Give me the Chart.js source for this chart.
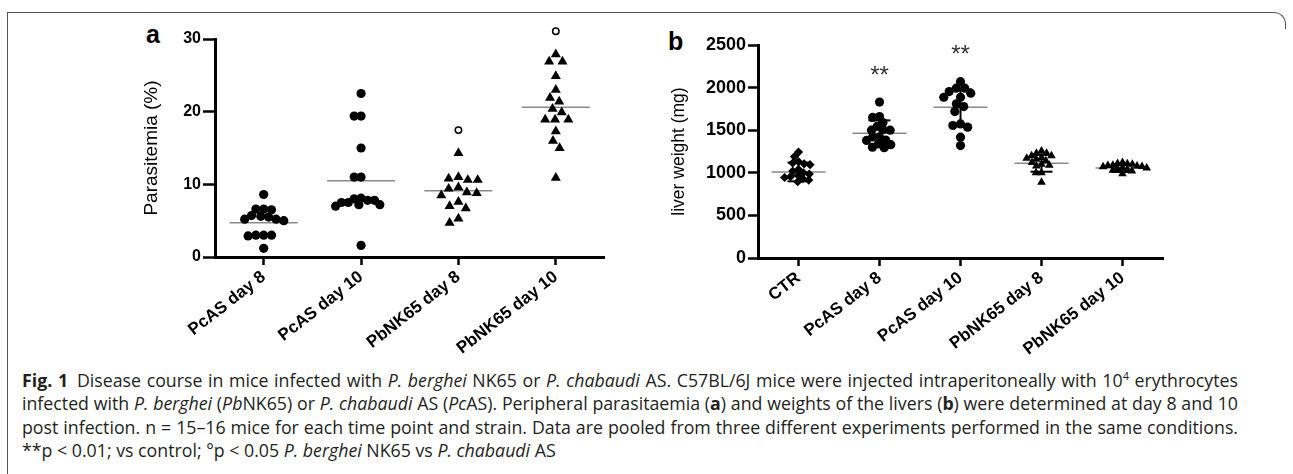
<!DOCTYPE html>
<html>
<head>
<meta charset="utf-8">
<script src="https://cdn.jsdelivr.net/npm/chart.js@4.4.1/dist/chart.umd.min.js"></script>
<style>
    body { margin: 0; width: 1293px; height: 474px; background: #fff; position: relative; overflow: hidden; }
    .frame { position: absolute; left: 7px; top: 12px; width: 1265px; height: 480px; border-top: 1.5px solid #555; border-left: 1.5px solid #555; }
    .corner { position: absolute; left: 1270px; top: 12px; width: 15px; height: 16px; border-top: 1.5px solid #555; border-right: 1.5px solid #555; border-top-right-radius: 12px; }
    .panel { position: absolute; top: 0; }
    .tag { position: absolute; font: bold 25px "Liberation Sans", Arial, sans-serif; line-height: 25px; color: #000; }
    .caption { position: absolute; left: 22px; top: 369px; width: 1216px; font: 16px "Open Sans", sans-serif; line-height: 23.3px; color: #231f20; }
    .caption div { white-space: nowrap; }
    .caption .j { text-align: justify; text-align-last: justify; white-space: normal; }
    .caption sup { font-size: 0.62em; line-height: 0; }
</style>
</head>
<body>
<div class="frame"></div>
<div class="corner"></div>
<div class="tag" style="left:146px; top:22px;">a</div>
<div class="tag" style="left:668px; top:29px;">b</div>
<canvas id="chart-a" class="panel" style="left:0px;" width="640" height="365"></canvas>
<canvas id="chart-b" class="panel" style="left:640px;" width="653" height="365"></canvas>
<div class="caption">
    <div class="j"><b>Fig. 1</b>&ensp;Disease course in mice infected with <i>P. berghei</i> NK65 or <i>P. chabaudi</i> AS. C57BL/6J mice were injected intraperitoneally with 10<sup>4</sup> erythrocytes</div>
    <div class="j">infected with <i>P. berghei</i> (<i>Pb</i>NK65) or <i>P. chabaudi</i> AS (<i>Pc</i>AS). Peripheral parasitaemia (<b>a</b>) and weights of the livers (<b>b</b>) were determined at day 8 and 10</div>
    <div class="j">post infection. n = 15–16 mice for each time point and strain. Data are pooled from three different experiments performed in the same conditions.</div>
    <div>**p &lt; 0.01; vs control; °p &lt; 0.05 <i>P. berghei</i> NK65 vs <i>P. chabaudi</i> AS</div>
</div>
<script>
// Panel a: parasitemia (%)
const groupsA = ["PcAS day 8", "PcAS day 10", "PbNK65 day 8", "PbNK65 day 10"];
const pcas8A = [8.6, 6.6, 6.6, 6.5, 5.7, 5.5, 5.2, 5.0, 5.2, 5.6, 3.0, 3.0, 2.9, 3.0, 1.2];
const pcas10A = [22.5, 19.4, 19.4, 15.0, 11.0, 11.0, 8.0, 7.8, 7.5, 7.2, 7.0, 7.2, 7.5, 7.8, 8.1, 1.6];
const pbnk8A = [14.3, 10.8, 10.6, 10.6, 11.0, 9.4, 9.6, 8.5, 8.8, 8.9, 7.0, 7.6, 6.7, 4.7, 5.3];
const pbnk10A = [27.9, 26.9, 26.9, 24.9, 23.0, 21.9, 21.4, 20.4, 19.9, 18.9, 18.9, 18.9, 17.3, 16.0, 15.0, 10.9];
const meanA = [4.7, 10.5, 9.1, 20.6];
const markA = ["", "", "°", "°"];
const ticksA = [0, 10, 20, 30];

// Panel b: liver weight (mg)
const groupsB = ["CTR", "PcAS day 8", "PcAS day 10", "PbNK65 day 8", "PbNK65 day 10"];
const ctrB = [1243, 1191, 1130, 1115, 1105, 1095, 1040, 1020, 1000, 985, 970, 955, 945, 930, 915, 895];
const pcas8B = [1830, 1650, 1660, 1590, 1545, 1500, 1500, 1505, 1420, 1380, 1330, 1295, 1300, 1340, 1385, 1420];
const pcas10B = [2070, 1993, 1993, 1934, 1887, 1887, 1953, 1809, 1777, 1719, 1555, 1536, 1574, 1418, 1320];
const pbnk8B = [1255, 1230, 1230, 1200, 1200, 1180, 1170, 1160, 1140, 1120, 1100, 1090, 1080, 1000, 1000, 890];
const pbnk10B = [1120, 1110, 1105, 1100, 1090, 1085, 1080, 1075, 1070, 1060, 1055, 1050, 1040, 1030, 1020, 990];
const meanB = [1010, 1465, 1770, 1113, 1055];
const sdB = [110, 150, 210, 100, 45];
const markB = ["", "**", "**", "", ""];
const ticksB = [0, 500, 1000, 1500, 2000, 2500];

const FONT = "'Liberation Sans', Arial, sans-serif";

// size the caption so the first line fills the box with normal word spacing
const caption = document.querySelector(".caption");
const probe = document.createElement("span");
probe.innerHTML = caption.querySelector(".j").innerHTML;
probe.style.cssText = "position:absolute; visibility:hidden; white-space:nowrap;";
caption.appendChild(probe);
caption.style.fontSize = (16 * 1195 / probe.getBoundingClientRect().width).toFixed(2) + "px";
probe.remove();

// one scatter dataset per group, x is nudged later by the swarm layout
function dots(values, group, style, radius, gap) {
    return {
        type: "scatter",
        data: values.map(v => ({ x: group, y: v })),
        group: group,
        swarm: radius * gap,
        pointStyle: style,
        pointRadius: radius,
        pointHoverRadius: radius,
        backgroundColor: "#000",
        borderColor: "#000",
        borderWidth: 0,
    };
}

function meanLines(means, half, color) {
    return {
        type: "scatter",
        data: means.map((m, i) => ({ x: i, y: m })),
        pointStyle: "line",
        pointRadius: half,
        pointHoverRadius: half,
        borderColor: color,
        borderWidth: 1.5,
    };
}

function sdBar(mean, sd, group) {
    return {
        type: "line",
        data: [{ x: group, y: mean - sd }, { x: group, y: mean + sd }],
        pointStyle: "line",
        pointRadius: 11,
        pointHoverRadius: 11,
        borderColor: "#000",
        borderWidth: 2,
        fill: false,
    };
}

// significance marks drawn above the highest point of a group
function marksPlugin(labels, groups) {
    return {
        id: "marks",
        afterDatasetsDraw(chart) {
            const { ctx, scales: { x, y } } = chart;
            labels.forEach((m, i) => {
                if (!m) return;
                const top = y.getPixelForValue(Math.max(...groups[i]));
                const px = x.getPixelForValue(i);
                ctx.save();
                if (m === "°") {
                    ctx.beginPath();
                    ctx.arc(px, top - 23, 3.2, 0, Math.PI * 2);
                    ctx.lineWidth = 1.5;
                    ctx.strokeStyle = "#000";
                    ctx.stroke();
                } else {
                    ctx.font = "24px " + FONT;
                    ctx.textAlign = "center";
                    ctx.textBaseline = "alphabetic";
                    ctx.fillStyle = "#333";
                    ctx.fillText(m, px, top - 32 + 12.5);
                }
                ctx.restore();
            });
        },
    };
}

function axes(labels, tickValues, max, title, titleSize, yWidth, titlePad, xHeight, tickFont, yTickLen) {
    return {
        x: {
            type: "linear",
            min: -0.5,
            max: labels.length - 0.5,
            afterBuildTicks: s => { s.ticks = labels.map((g, i) => ({ value: i })); },
            afterFit: s => { s.height = xHeight; },
            ticks: {
                callback: v => labels[v],
                minRotation: 38,
                maxRotation: 38,
                autoSkip: false,
                padding: 2,
                color: "#000",
                font: { family: FONT, size: 17, weight: "bold" },
            },
            grid: { drawOnChartArea: false, drawTicks: true, tickLength: 8, tickWidth: 2.5, tickColor: "#000" },
            border: { color: "#000", width: 3 },
        },
        y: {
            type: "linear",
            min: 0,
            max: max,
            afterBuildTicks: s => { s.ticks = tickValues.map(v => ({ value: v })); },
            afterFit: s => { s.width = yWidth; },
            title: {
                display: true,
                text: title,
                color: "#000",
                font: { family: FONT, size: titleSize },
                padding: { top: titlePad, bottom: 0 },
            },
            ticks: {
                callback: v => String(v),
                padding: 2,
                color: "#000",
                font: { family: FONT, size: tickFont, weight: "bold" },
            },
            grid: { drawOnChartArea: false, drawTicks: true, tickLength: yTickLen, tickWidth: 2.5, tickColor: "#000" },
            border: { color: "#000", width: 3 },
        },
    };
}

// simple beeswarm: place each point as close to the group centre as possible without overlap
function swarm(chart) {
    const xs = chart.scales.x;
    const ys = chart.scales.y;
    const unit = xs.getPixelForValue(1) - xs.getPixelForValue(0);
    chart.data.datasets.forEach(ds => {
        if (!ds.swarm) return;
        const d = ds.swarm;
        const placed = [];
        const order = ds.data.map((p, i) => i).sort((a, b) => ds.data[b].y - ds.data[a].y);
        order.forEach(i => {
            const p = ds.data[i];
            const py = ys.getPixelForValue(p.y);
            const cands = [0];
            placed.forEach(q => {
                const dy = q.y - py;
                if (Math.abs(dy) < d) {
                    const dx = Math.sqrt(d * d - dy * dy);
                    cands.push(q.x - dx, q.x + dx);
                }
            });
            cands.sort((a, b) => Math.abs(a) - Math.abs(b));
            const px = cands.find(c => placed.every(q => (q.x - c) ** 2 + (q.y - py) ** 2 >= d * d - 0.5));
            placed.push({ x: px, y: py });
            p.x = ds.group + px / unit;
        });
    });
    chart.update("none");
}

const chartA = new Chart(document.getElementById("chart-a"), {
    data: {
        datasets: [
            dots(pcas8A, 0, "circle", 4.6, 1.7),
            dots(pcas10A, 1, "circle", 4.6, 1.5),
            dots(pbnk8A, 2, "triangle", 5.8, 1.7),
            dots(pbnk10A, 3, "triangle", 5.8, 1.7),
            meanLines(meanA, 34, "#8a8a8a"),
        ],
    },
    options: {
        responsive: false,
        animation: false,
        events: [],
        layout: { padding: { left: 130, top: 39, right: 18, bottom: 0 } },
        plugins: { legend: { display: false }, tooltip: { enabled: false } },
        scales: axes(groupsA, ticksA, 30, "Parasitemia (%)", 19, 85, 10.5, 108, 16, 12),
    },
    plugins: [marksPlugin(markA, [pcas8A, pcas10A, pbnk8A, pbnk10A])],
});
swarm(chartA);

const chartB = new Chart(document.getElementById("chart-b"), {
    data: {
        datasets: [
            dots(ctrB, 0, "rectRot", 4.6, 1.3),
            dots(pcas8B, 1, "circle", 4.6, 1.5),
            dots(pcas10B, 2, "circle", 4.6, 1.7),
            dots(pbnk8B, 3, "triangle", 5, 1.1),
            dots(pbnk10B, 4, "triangle", 5, 1.0),
            meanLines(meanB, 27, "#8a8a8a"),
            ...meanB.map((m, i) => sdBar(m, sdB[i], i)),
        ],
    },
    options: {
        responsive: false,
        animation: false,
        events: [],
        layout: { padding: { left: 25, top: 45, right: 130, bottom: 0 } },
        plugins: { legend: { display: false }, tooltip: { enabled: false } },
        scales: axes(groupsB, ticksB, 2500, "liver weight (mg)", 17.5, 93, 3.5, 107, 18, 10),
    },
    plugins: [marksPlugin(markB, [ctrB, pcas8B, pcas10B, pbnk8B, pbnk10B])],
});
swarm(chartB);
</script>
</body>
</html>
